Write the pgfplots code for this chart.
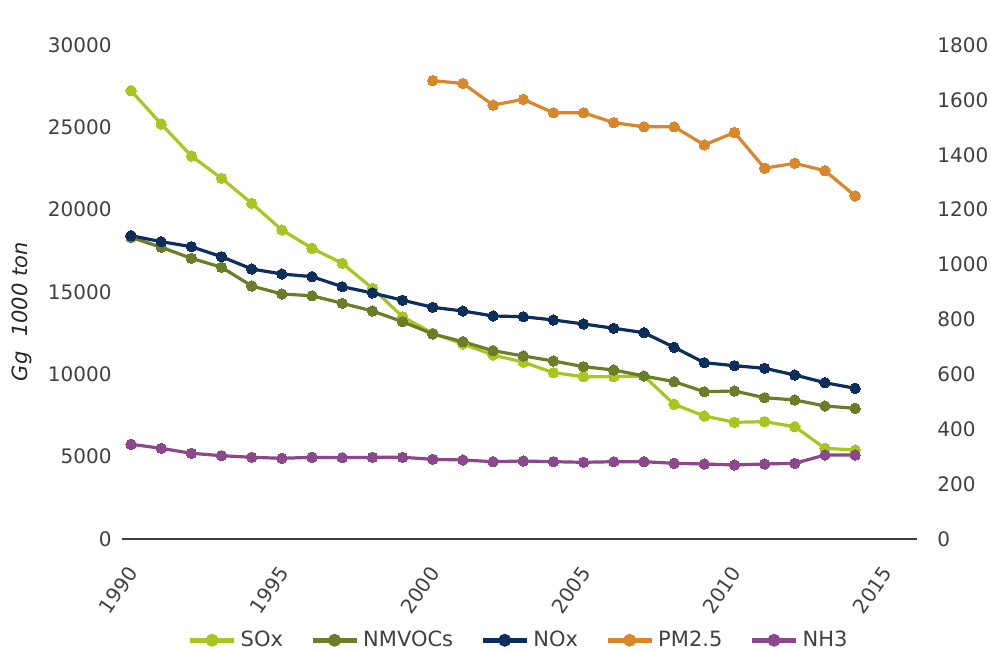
\documentclass[border=0pt]{standalone}
\usepackage{fontspec}
\setmainfont{DejaVu Sans}
\usepackage{pgfplots}
\usepackage{pgfplotstable}
\pgfplotsset{compat=1.18}
\definecolor{soxc}{RGB}{170,196,32}
\definecolor{nmvc}{RGB}{106,126,42}
\definecolor{noxc}{RGB}{12,46,92}
\definecolor{pmc}{RGB}{218,134,42}
\definecolor{nh3c}{RGB}{140,72,140}
\definecolor{tickc}{RGB}{64,64,64}
\pgfplotstableread{
year sox nmvoc nox nh3
1990 27225 18322 18420 5751
1991 25200 17715 18055 5508
1992 23260 17047 17752 5204
1993 21905 16500 17144 5059
1994 20387 15365 16397 4962
1995 18765 14879 16093 4901
1996 17654 14770 15930 4962
1997 16743 14314 15322 4937
1998 15225 13846 14940 4962
1999 13500 13197 14500 4962
2000 12492 12450 14071 4840
2001 11842 11982 13846 4798
2002 11174 11435 13543 4694
2003 10740 11113 13500 4737
2004 10100 10810 13300 4694
2005 9857 10464 13057 4658
2006 9857 10263 12796 4694
2007 9899 9899 12529 4694
2008 8180 9553 11642 4597
2009 7470 8945 10707 4555
2010 7087 8988 10525 4494
2011 7124 8581 10366 4555
2012 6820 8441 9960 4597
2013 5508 8077 9492 5101
2014 5405 7937 9152 5101
}\lefttable
\pgfplotstableread{
year pm
2000 1670
2001 1660
2002 1581
2003 1602
2004 1553
2005 1553
2006 1517
2007 1502
2008 1502
2009 1436
2010 1481
2011 1351
2012 1369
2013 1342
2014 1250
}\pmtable
\pgfplotsset{
  common/.style={
    width=397.5pt, height=247pt, scale only axis,
    xmin=1989.7, xmax=2016.05, ymin=0,
    major tick length=0pt, tick style={draw=none},
    ticklabel style={font=\fontsize{10}{12}\selectfont, text=tickc},
    scaled y ticks=false,
    /pgf/number format/assume math mode=true,
    /pgf/number format/set thousands separator={},
    clip=false,
  },
  ser/.style={color=#1, line width=1.6pt, mark=*, mark size=2.6pt, mark options={solid, fill=#1, draw=#1, line width=0pt}},
  legend image code/.code={
    \draw[#1, line width=2.6pt, mark=none] (0pt,0pt) -- (22pt,0pt);
    \fill[#1] (11pt,0pt) circle (2.4pt);
  },
}
\begin{document}
\begin{tikzpicture}
\begin{axis}[common, name=ax,
  ymax=30000, ytick={0,5000,...,30000},
  axis x line*=bottom, axis y line*=left,
  y axis line style={draw=none},
  x axis line style={draw=tickc, line width=1.1pt},
  xtick={1990,1995,...,2015},
  xticklabel style={yshift=-15pt, xshift=1pt, rotate=55, anchor=east, inner sep=0pt},
  yticklabel style={anchor=east, inner sep=0pt, xshift=-5pt},
  ylabel={Gg\hspace{0.7em}1000 ton},
  ylabel style={at={(axis description cs:-0.126,0.46)}, anchor=center, font=\itshape\fontsize{10.5}{12}\selectfont, text=black!85},
]
\addplot[ser=soxc] table[x=year, y=sox] {\lefttable};
\addplot[ser=nmvc] table[x=year, y=nmvoc] {\lefttable};
\addplot[ser=noxc] table[x=year, y=nox] {\lefttable};
\addplot[ser=nh3c] table[x=year, y=nh3] {\lefttable};
\end{axis}
\begin{axis}[common,
  ymax=1800, ytick={0,200,...,1800},
  axis x line=none, axis y line*=right,
  y axis line style={draw=none},
  yticklabel style={anchor=west, inner sep=0pt, xshift=10pt},
  legend columns=5,
  legend style={at={(0.5,-0.205)}, anchor=center, draw=none, fill=none,
    font=\fontsize{10.5}{12}\selectfont, text=tickc,
    nodes={inner sep=2pt},
    /tikz/every odd column/.append style={column sep=0pt},
    /tikz/every even column/.append style={column sep=11.5pt}},
]
\addlegendimage{ser=soxc}\addlegendentry{SOx}
\addlegendimage{ser=nmvc}\addlegendentry{NMVOCs}
\addlegendimage{ser=noxc}\addlegendentry{NOx}
\addplot[ser=pmc] table[x=year, y=pm] {\pmtable};\addlegendentry{PM2.5}
\addlegendimage{ser=nh3c}\addlegendentry{NH3}
\end{axis}
\pgfresetboundingbox
\path ([shift={(-61pt,-56.5pt)}]ax.south west) rectangle ([shift={(37pt,22.5pt)}]ax.north east);
\end{tikzpicture}
\end{document}
